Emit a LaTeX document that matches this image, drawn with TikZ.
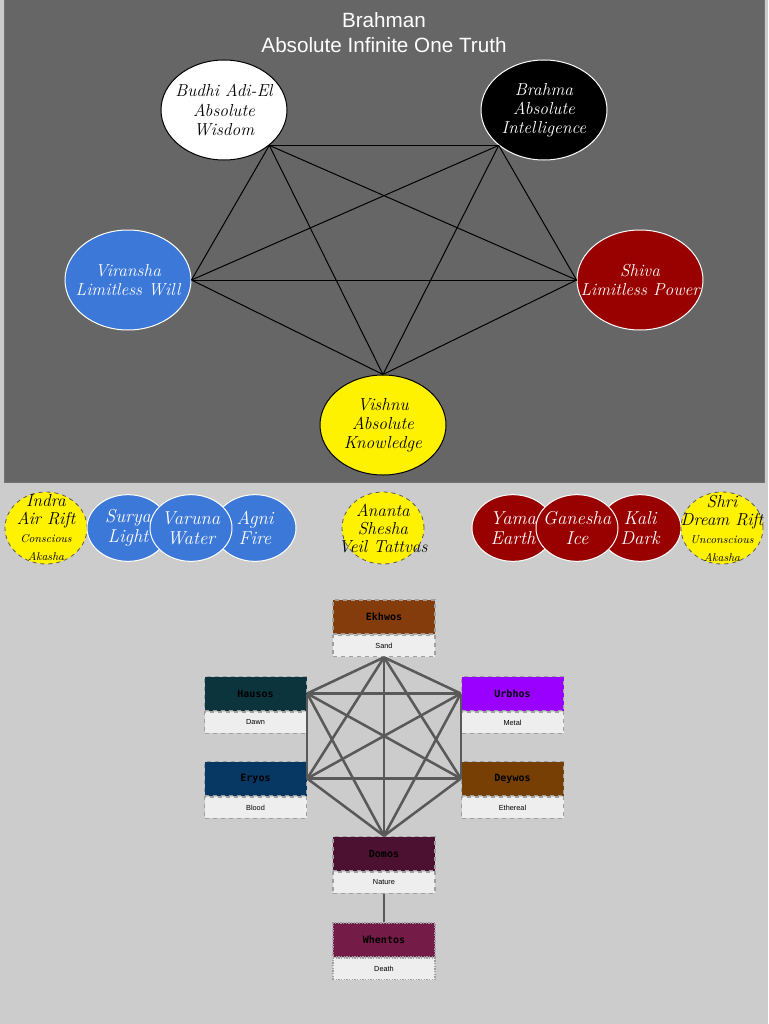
\documentclass[tikz,border=0pt]{standalone}
\usepackage{fontspec}
\setsansfont{Liberation Sans}
\setmonofont{DejaVu Sans Mono}
\usepackage{tikz}
\usetikzlibrary{shapes.geometric}
\usetikzlibrary{positioning}

\definecolor{pagegray}{HTML}{CCCCCC}
\definecolor{panelgray}{HTML}{666666}
\definecolor{devblue}{HTML}{3C78D8}
\definecolor{devred}{HTML}{990000}
\definecolor{linegray}{HTML}{595959}
\definecolor{boxlight}{HTML}{EEEEEE}
\definecolor{ekhwosc}{HTML}{843C0C}
\definecolor{hausosc}{HTML}{0C343D}
\definecolor{urbhosc}{HTML}{9900FF}
\definecolor{eryosc}{HTML}{073763}
\definecolor{deywosc}{HTML}{783F04}
\definecolor{domosc}{HTML}{4C1130}
\definecolor{whentosc}{HTML}{741B47}

\newcommand{\riftsmall}[1]{{\fontsize{8.5}{9}\selectfont #1}}

\tikzset{
	deity/.style={ellipse, minimum width=94.5pt, minimum height=75pt, inner xsep=-20pt, inner ysep=0pt, align=center, line width=0.75pt, font=\fontsize{13}{14.3}\selectfont\itshape},
	minor/.style={ellipse, minimum width=61.5pt, minimum height=50pt, inner xsep=-20pt, inner ysep=-4pt, align=center, draw=white, line width=0.75pt, text=white, font=\fontsize{14}{15}\selectfont\itshape},
	rift/.style={ellipse, minimum width=61.5pt, minimum height=54pt, inner xsep=-20pt, inner ysep=-12pt, align=center, fill=yellow, draw=black!65, dashed, line width=0.6pt, font=\fontsize{13}{13.5}\selectfont\itshape},
	namebox/.style={rectangle, minimum width=76.5pt, minimum height=25.5pt, inner sep=0pt, draw=gray!75, dashed, line width=1pt, font=\ttfamily\bfseries\fontsize{7.5}{9}\selectfont},
	tagbox/.style={rectangle, minimum width=76.5pt, minimum height=16pt, inner sep=0pt, fill=boxlight, draw=gray!75, dashed, line width=1pt, font=\sffamily\fontsize{5.5}{6.5}\selectfont},
	link/.style={draw=black, line width=0.75pt},
	elink/.style={draw=linegray, line width=1.9pt}
}

\begin{document}
\begin{tikzpicture}[x=0.75pt,y=-0.75pt]
		% page and upper panel
		\fill[pagegray] (0,0) rectangle (768,1024);
		\useasboundingbox (0,0) rectangle (768,1024);
		\filldraw[fill=panelgray, draw=black!55, line width=0.75pt] (4,0) rectangle (764,482);
		\draw (384,20) node[text=white, font=\sffamily\fontsize{15.5}{18}\selectfont] (brahman) {Brahman};
		\draw (384,45) node[text=white, font=\sffamily\fontsize{15.5}{18}\selectfont] (truth) {Absolute Infinite One Truth};

		% the five
		\draw (224,110) node[deity, fill=white, draw=black, text=black] (budhi) {Budhi Adi-El\\Absolute\\Wisdom};
		\draw (544,110) node[deity, fill=black, draw=white, text=white] (brahma) {Brahma\\Absolute\\Intelligence};
		\draw (128,280) node[deity, fill=devblue, draw=white, text=white] (viransha) {Viransha\\Limitless Will};
		\draw (640,280) node[deity, fill=devred, draw=white, text=white] (shiva) {Shiva\\Limitless Power};
		\draw (383,425) node[deity, fill=yellow, draw=black, text=black] (vishnu) {Vishnu\\Absolute\\Knowledge};

		\coordinate (budhiP) at (budhi.-38);
		\coordinate (brahmaP) at (brahma.-142);
		\coordinate (viranshaP) at (viransha.east);
		\coordinate (shivaP) at (shiva.west);
		\coordinate (vishnuP) at (vishnu.north);
		\foreach \a/\b in {budhiP/brahmaP, budhiP/viranshaP, budhiP/shivaP, budhiP/vishnuP, brahmaP/viranshaP, brahmaP/shivaP, brahmaP/vishnuP, viranshaP/shivaP, viranshaP/vishnuP, shivaP/vishnuP}
			\draw[link] (\a) -- (\b);

		% row of lesser ones
		\draw (46,528) node[rift] (indra) {Indra\\Air Rift\\\riftsmall{Conscious}\\\riftsmall{Akasha}};
		\draw (128,528) node[minor, fill=devblue] (surya) {Surya\\Light};
		\draw (255,528) node[minor, fill=devblue] (agni) {Agni\\Fire};
		\draw (191,528) node[minor, fill=devblue] (varuna) {Varuna\\Water};
		\draw (383,528) node[rift] (ananta) {Ananta\\Shesha\\Veil Tattvas};
		\draw (513,528) node[minor, fill=devred] (yama) {Yama\\Earth};
		\draw (640,528) node[minor, fill=devred] (kali) {Kali\\Dark};
		\draw (577,528) node[minor, fill=devred] (ganesha) {Ganesha\\Ice};
		\draw (722,528) node[rift] (shri) {Shri\\Dream Rift\\\riftsmall{Unconscious}\\\riftsmall{Akasha}};

		% boxes
		\draw (384,617) node[namebox, fill=ekhwosc] (ekhwos) {Ekhwos};
		\node[tagbox, below=0pt of ekhwos] (sand) {Sand};
		\draw (255.5,693.5) node[namebox, fill=hausosc] (hausos) {Hausos};
		\node[tagbox, below=0pt of hausos] (dawn) {Dawn};
		\draw (512.5,693.5) node[namebox, fill=urbhosc] (urbhos) {Urbhos};
		\node[tagbox, below=0pt of urbhos] (metal) {Metal};
		\draw (255.5,778.5) node[namebox, fill=eryosc] (eryos) {Eryos};
		\node[tagbox, below=0pt of eryos] (blood) {Blood};
		\draw (512.5,778.5) node[namebox, fill=deywosc] (deywos) {Deywos};
		\node[tagbox, below=0pt of deywos] (ethereal) {Ethereal};
		\draw (384,853.5) node[namebox, fill=domosc] (domos) {Domos};
		\node[tagbox, below=0pt of domos] (nature) {Nature};
		\draw (384,940) node[namebox, fill=whentosc, densely dotted] (whentos) {Whentos};
		\node[tagbox, below=0pt of whentos, densely dotted] (death) {Death};

		\coordinate (ekhwosP) at (sand.south);
		\coordinate (hausosP) at (hausos.east);
		\coordinate (urbhosP) at (urbhos.west);
		\coordinate (eryosP) at (eryos.east);
		\coordinate (deywosP) at (deywos.west);
		\coordinate (domosP) at (domos.north);
		\foreach \a/\b in {ekhwosP/hausosP, ekhwosP/urbhosP, ekhwosP/eryosP, ekhwosP/deywosP, ekhwosP/domosP, hausosP/urbhosP, hausosP/eryosP, hausosP/deywosP, hausosP/domosP, urbhosP/eryosP, urbhosP/deywosP, urbhosP/domosP, eryosP/deywosP, eryosP/domosP, deywosP/domosP}
			\draw[elink] (\a) -- (\b);
		\draw[elink] (nature) -- (whentos);
\end{tikzpicture}
\end{document}
